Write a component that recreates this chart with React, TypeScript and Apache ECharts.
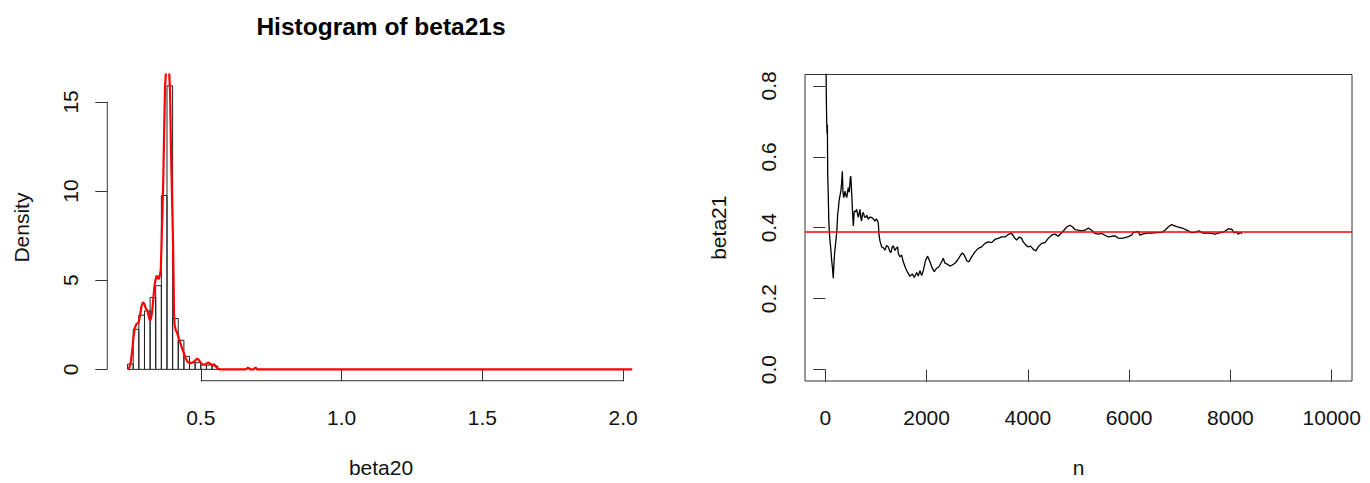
import React, { useEffect, useRef } from "react";
import * as echarts from "echarts";

// Histogram of the posterior draws (bin width 0.02, density scale)
const binEdges = [0.24, 0.26, 0.28, 0.3, 0.32, 0.34, 0.36, 0.38, 0.4, 0.42, 0.44, 0.46, 0.48, 0.5, 0.52, 0.54, 0.56];
const binDensity = [0.3, 2.25, 3.04, 3.28, 4.03, 4.69, 9.75, 15.9, 2.85, 1.63, 0.73, 0.375, 0.375, 0.28, 0.24, 0.19];

// Kernel density estimate overlaid in red
const densityX = [
  0.241, 0.246, 0.251, 0.256, 0.261, 0.266, 0.272, 0.279, 0.284, 0.289, 0.294, 0.299, 0.304, 0.31, 0.315, 0.319,
  0.323, 0.327, 0.331, 0.335, 0.339, 0.343, 0.347, 0.351, 0.355, 0.358, 0.361, 0.364, 0.367, 0.37, 0.373, 0.376,
  0.382, 0.388, 0.391, 0.394, 0.398, 0.401, 0.403, 0.405, 0.407, 0.411, 0.416, 0.421, 0.427, 0.433, 0.44, 0.447,
  0.454, 0.462, 0.47, 0.478, 0.486, 0.492, 0.498, 0.505, 0.512, 0.52, 0.527, 0.534, 0.541, 0.548, 0.554, 0.56,
  0.568, 0.66, 0.668, 0.674, 0.688, 0.694, 0.7, 2.032,
];
const densityY = [
  0, 0.1, 0.35, 1.0, 1.8, 2.35, 2.55, 2.62, 3.0, 3.5, 3.75, 3.7, 3.45, 3.3, 3.0, 2.75,
  2.85, 3.2, 3.9, 4.6, 5.0, 5.25, 5.2, 5.05, 5.3, 5.6, 7.2, 9.0, 10.8, 13.5, 15.8, 16.6,
  16.8, 16.6, 15.5, 12.5, 9.5, 7.5, 5.5, 3.0, 2.5, 2.2, 2.05, 1.8, 1.5, 1.2, 0.9, 0.6,
  0.4, 0.35, 0.38, 0.45, 0.6, 0.55, 0.42, 0.28, 0.25, 0.32, 0.38, 0.3, 0.25, 0.28, 0.15, 0.05,
  0, 0, 0.1, 0, 0, 0.1, 0, 0,
];

// Running estimate of beta21 against the number of draws
const traceN = [
  1, 10, 20, 28, 36, 42, 48, 58, 70, 80, 95, 110, 125, 140, 158, 172, 185, 200, 215, 228,
  245, 260, 272, 290, 310, 325, 337, 350, 365, 390, 410, 425, 440, 455, 475, 494, 505, 521, 540, 554,
  573, 600, 619, 636, 652, 685, 700, 718, 735, 751, 775, 797, 820, 850, 880, 916, 950, 981, 1010, 1034,
  1048, 1062, 1080, 1113, 1145, 1179, 1210, 1245, 1270, 1297, 1320, 1343, 1376, 1400, 1429, 1441, 1475, 1508, 1540, 1587,
  1627, 1672, 1718, 1757, 1804, 1836, 1870, 1903, 1935, 1982, 2021, 2067, 2113, 2152, 2199, 2245, 2298, 2330, 2363, 2416,
  2462, 2508, 2561, 2614, 2660, 2705, 2745, 2792, 2837, 2890, 2956, 3021, 3088, 3153, 3218, 3285, 3350, 3416, 3483, 3548,
  3613, 3680, 3731, 3779, 3830, 3877, 3909, 3962, 4008, 4055, 4107, 4160, 4205, 4272, 4338, 4403, 4470, 4535, 4600, 4667,
  4713, 4766, 4831, 4884, 4930, 4995, 5062, 5127, 5193, 5260, 5325, 5390, 5457, 5522, 5588, 5655, 5720, 5785, 5852, 5917,
  5983, 6049, 6081, 6180, 6213, 6279, 6350, 6444, 6540, 6642, 6707, 6772, 6838, 6937, 7068, 7167, 7234, 7299, 7378, 7463,
  7595, 7694, 7793, 7872, 7957, 8024, 8069, 8122, 8154, 8188, 8230,
];
const traceBeta21 = [
  1.6, 0.95, 0.78, 0.7, 0.665, 0.69, 0.55, 0.5, 0.42, 0.39, 0.36, 0.34, 0.31, 0.29, 0.258, 0.3, 0.33, 0.35, 0.37, 0.39,
  0.438, 0.455, 0.475, 0.49, 0.505, 0.53, 0.559, 0.5, 0.485, 0.503, 0.49, 0.485, 0.5, 0.513, 0.5, 0.541, 0.545, 0.5, 0.44, 0.405,
  0.447, 0.445, 0.452, 0.44, 0.429, 0.452, 0.43, 0.419, 0.44, 0.443, 0.43, 0.429, 0.435, 0.424, 0.43, 0.429, 0.425, 0.419, 0.425, 0.419,
  0.412, 0.38, 0.363, 0.346, 0.344, 0.337, 0.35, 0.346, 0.335, 0.33, 0.345, 0.349, 0.336, 0.342, 0.346, 0.328, 0.318, 0.323, 0.304, 0.286,
  0.274, 0.263, 0.27, 0.26, 0.274, 0.264, 0.279, 0.265, 0.279, 0.309, 0.32, 0.304, 0.286, 0.276, 0.286, 0.29, 0.304, 0.314, 0.3, 0.297,
  0.292, 0.295, 0.3, 0.309, 0.32, 0.329, 0.323, 0.307, 0.304, 0.318, 0.332, 0.342, 0.346, 0.356, 0.36, 0.358, 0.367, 0.37, 0.374, 0.374,
  0.381, 0.384, 0.373, 0.365, 0.374, 0.37, 0.36, 0.351, 0.346, 0.348, 0.339, 0.335, 0.346, 0.356, 0.358, 0.37, 0.379, 0.382, 0.376, 0.386,
  0.393, 0.402, 0.407, 0.402, 0.395, 0.393, 0.391, 0.393, 0.399, 0.393, 0.384, 0.382, 0.384, 0.379, 0.374, 0.376, 0.377, 0.371, 0.37, 0.372,
  0.375, 0.379, 0.386, 0.39, 0.379, 0.383, 0.385, 0.385, 0.386, 0.387, 0.393, 0.402, 0.409, 0.403, 0.398, 0.391, 0.386, 0.387, 0.391, 0.385,
  0.385, 0.382, 0.386, 0.388, 0.397, 0.396, 0.386, 0.388, 0.382, 0.386, 0.384,
];
const refBeta21 = 0.388;

// Tick positions
const histXTicks = [0.5, 1.0, 1.5, 2.0];
const histYTicks = [0, 5, 10, 15];
const traceXTicks = [0, 2000, 4000, 6000, 8000, 10000];
const traceYTicks = [0, 0.2, 0.4, 0.6, 0.8];

// Axis ranges (4% padding around the data limits)
const histXRange = [0.168, 2.112];
const histYRange = [-0.636, 16.536];
const traceXRange = [-400, 10400];
const traceYRange = [-0.032, 0.832];

const FONT = "'Liberation Sans', Arial, sans-serif";
const INK = "#111";
const AXIS = "#333";

function valueAxis(gridIndex: number, range: number[], ticks: number[], fmt: (v: number) => string, rotate = 0) {
  return {
    type: "value" as const,
    gridIndex,
    min: range[0],
    max: range[1],
    splitLine: { show: false },
    axisLine: { show: false },
    axisTick: { show: true, customValues: ticks, length: 12, lineStyle: { color: AXIS, width: 1 } },
    axisLabel: {
      customValues: ticks,
      formatter: (v: number) => fmt(v),
      margin: 26,
      rotate,
      fontSize: 21,
      fontFamily: FONT,
      color: INK,
    },
  };
}

export default function App() {
  const ref = useRef<HTMLDivElement>(null);

  useEffect(() => {
    document.body.style.margin = "0";
    const chart = echarts.init(ref.current!, null, { renderer: "svg" });

    const bins = binDensity.map((d, i) => [binEdges[i], binEdges[i + 1], d]);
    const density = densityX.map((x, i) => [x, densityY[i]]);
    const trace = traceN.map((n, i) => [n, traceBeta21[i]]);

    chart.setOption({
      animation: false,
      backgroundColor: "#fff",
      grid: [
        { left: 107.3, top: 74.5, width: 547.4, height: 306.2, show: false },
        { left: 805, top: 74.5, width: 547, height: 306.5, show: true, borderColor: AXIS, borderWidth: 1 },
      ],
      xAxis: [
        valueAxis(0, histXRange, histXTicks, (v) => v.toFixed(1)),
        valueAxis(1, traceXRange, traceXTicks, (v) => String(Math.round(v))),
      ],
      yAxis: [
        valueAxis(0, histYRange, histYTicks, (v) => String(Math.round(v)), 90),
        valueAxis(1, traceYRange, traceYTicks, (v) => v.toFixed(1), 90),
      ],
      series: [
        {
          type: "custom",
          xAxisIndex: 0,
          yAxisIndex: 0,
          data: bins,
          encode: { x: [0, 1], y: 2 },
          silent: true,
          renderItem: (_p: any, api: any) => {
            const a = api.coord([api.value(0), api.value(2)]);
            const b = api.coord([api.value(1), 0]);
            return {
              type: "rect",
              shape: { x: a[0], y: a[1], width: b[0] - a[0], height: b[1] - a[1] },
              style: { fill: "none", stroke: "#222", lineWidth: 1 },
            };
          },
        },
        {
          type: "line",
          xAxisIndex: 0,
          yAxisIndex: 0,
          data: density,
          symbol: "none",
          clip: true,
          silent: true,
          lineStyle: { color: "#ff0000", width: 2.2 },
        },
        {
          // bottom axis line of the histogram, spanning the first to the last tick
          type: "line",
          xAxisIndex: 0,
          yAxisIndex: 0,
          data: [
            [histXTicks[0], histYRange[0]],
            [histXTicks[histXTicks.length - 1], histYRange[0]],
          ],
          symbol: "none",
          clip: false,
          silent: true,
          lineStyle: { color: AXIS, width: 1 },
        },
        {
          // left axis line of the histogram
          type: "line",
          xAxisIndex: 0,
          yAxisIndex: 0,
          data: [
            [histXRange[0], histYTicks[0]],
            [histXRange[0], histYTicks[histYTicks.length - 1]],
          ],
          symbol: "none",
          clip: false,
          silent: true,
          lineStyle: { color: AXIS, width: 1 },
        },
        {
          type: "line",
          xAxisIndex: 1,
          yAxisIndex: 1,
          data: trace,
          symbol: "none",
          clip: true,
          silent: true,
          lineStyle: { color: "#000", width: 1.3 },
          markLine: {
            silent: true,
            symbol: ["none", "none"],
            label: { show: false },
            lineStyle: { color: "#ff0000", width: 1.5, type: "solid" },
            data: [{ yAxis: refBeta21 }],
          },
        },
      ],
      graphic: [
        {
          type: "text",
          x: 381,
          y: 26,
          style: {
            text: "Histogram of beta21s",
            font: `bold 24.5px ${FONT}`,
            fill: "#000",
            textAlign: "center",
            textVerticalAlign: "middle",
          },
        },
        {
          type: "text",
          x: 381,
          y: 467,
          style: { text: "beta20", font: `21px ${FONT}`, fill: INK, textAlign: "center", textVerticalAlign: "middle" },
        },
        {
          type: "text",
          x: 21.5,
          y: 227.6,
          rotation: Math.PI / 2,
          style: { text: "Density", font: `21px ${FONT}`, fill: INK, textAlign: "center", textVerticalAlign: "middle" },
        },
        {
          type: "text",
          x: 1078.5,
          y: 467,
          style: { text: "n", font: `21px ${FONT}`, fill: INK, textAlign: "center", textVerticalAlign: "middle" },
        },
        {
          type: "text",
          x: 718.5,
          y: 227.7,
          rotation: Math.PI / 2,
          style: { text: "beta21", font: `21px ${FONT}`, fill: INK, textAlign: "center", textVerticalAlign: "middle" },
        },
      ],
    });

    return () => chart.dispose();
  }, []);

  return <div ref={ref} style={{ position: "absolute", left: 0, top: 0, width: 1370, height: 483 }} />;
}
